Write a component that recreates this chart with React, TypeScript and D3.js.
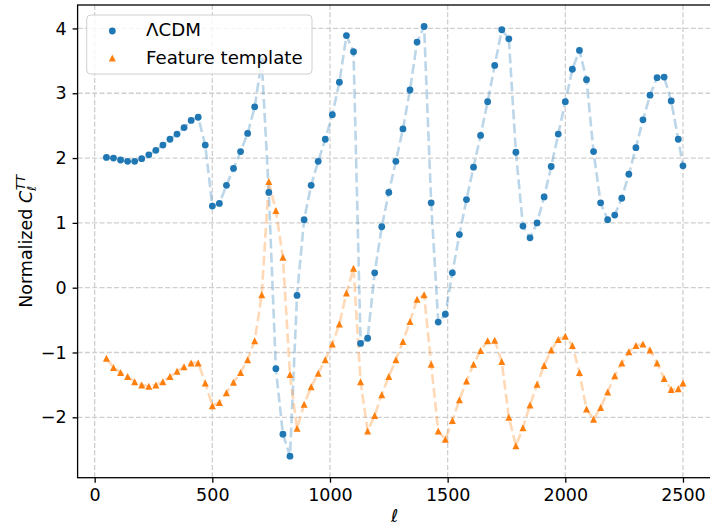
import React, { useEffect, useRef } from "react";
import * as d3 from "d3";

const ell = [
  50, 80, 110, 140, 170, 200, 230, 260, 290, 320, 350, 380, 410, 440, 470, 500,
  530, 560, 590, 620, 650, 680, 710, 740, 770, 800, 830, 860, 890, 920, 950, 980,
  1010, 1040, 1070, 1100, 1130, 1160, 1190, 1220, 1250, 1280, 1310, 1340, 1370,
  1400, 1430, 1460, 1490, 1520, 1550, 1580, 1610, 1640, 1670, 1700, 1730, 1760,
  1790, 1820, 1850, 1880, 1910, 1940, 1970, 2000, 2030, 2060, 2090, 2120, 2150,
  2180, 2210, 2240, 2270, 2300, 2330, 2360, 2390, 2420, 2450, 2480, 2500,
];

const lcdm = [
  2.01, 2.0, 1.97, 1.95, 1.95, 1.99, 2.05, 2.12, 2.2, 2.29, 2.37, 2.47, 2.58,
  2.63, 2.2, 1.26, 1.3, 1.58, 1.84, 2.1, 2.38, 2.79, 3.5, 1.47, -1.25, -2.26,
  -2.6, -0.12, 1.05, 1.58, 1.95, 2.29, 2.67, 3.17, 3.89, 3.64, -0.86, -0.78,
  0.23, 0.94, 1.47, 1.95, 2.45, 3.05, 3.79, 4.03, 1.31, -0.53, -0.41, 0.23,
  0.82, 1.36, 1.86, 2.35, 2.87, 3.43, 3.98, 3.84, 2.09, 0.95, 0.77, 1.0, 1.4,
  1.87, 2.37, 2.87, 3.37, 3.66, 3.21, 2.1, 1.31, 1.05, 1.12, 1.38, 1.75, 2.16,
  2.59, 2.97, 3.24, 3.25, 2.88, 2.29, 1.88,
];

const feature = [
  -1.09, -1.23, -1.31, -1.37, -1.45, -1.5, -1.52, -1.5, -1.45, -1.37, -1.29,
  -1.22, -1.16, -1.16, -1.47, -1.82, -1.77, -1.62, -1.46, -1.31, -1.11, -0.82,
  -0.11, 1.64, 1.19, 0.47, -1.34, -2.17, -1.8, -1.53, -1.32, -1.11, -0.87,
  -0.56, -0.08, 0.3, -1.45, -2.21, -1.97, -1.65, -1.37, -1.11, -0.83, -0.52,
  -0.18, -0.11, -1.18, -2.21, -2.34, -2.05, -1.73, -1.44, -1.18, -0.97, -0.82,
  -0.81, -1.14, -2.0, -2.44, -2.16, -1.81, -1.49, -1.2, -0.96, -0.8, -0.75,
  -0.89, -1.31, -1.87, -2.03, -1.85, -1.61, -1.36, -1.16, -0.99, -0.89, -0.87,
  -0.96, -1.16, -1.4, -1.57, -1.56, -1.47,
];

const xTicks = [0, 500, 1000, 1500, 2000, 2500];
const yTicks = [-2, -1, 0, 1, 2, 3, 4];
const seriesNames = ["ΛCDM", "Feature template"];

const BLUE = "#1f77b4";
const ORANGE = "#ff7f0e";
const FONT = "DejaVu Sans, sans-serif";

const App = () => {
  const ref = useRef<SVGSVGElement | null>(null);

  useEffect(() => {
    document.body.style.margin = "0";
    draw();
  });

  const draw = () => {
    const svg = d3.select(ref.current);
    svg.selectAll("*").remove();

    const left = 77.6;
    const right = 711.8;
    const top = 5;
    const bottom = 477.7;

    const pad = (lo: number, hi: number) => [lo - (hi - lo) * 0.05, hi + (hi - lo) * 0.05];
    const xExt = d3.extent(ell) as [number, number];
    const yExt = d3.extent([...lcdm, ...feature]) as [number, number];

    const x = d3.scaleLinear().domain(pad(xExt[0], xExt[1])).range([left, right]);
    const y = d3.scaleLinear().domain(pad(yExt[0], yExt[1])).range([bottom, top]);

    // grid
    const grid = svg.append("g").attr("stroke", "#cfcfcf").attr("stroke-width", 1.3)
      .attr("stroke-dasharray", "5,2.3");
    xTicks.forEach((t) => {
      grid.append("line").attr("x1", x(t)).attr("x2", x(t)).attr("y1", top).attr("y2", bottom);
    });
    yTicks.forEach((t) => {
      grid.append("line").attr("x1", left).attr("x2", right).attr("y1", y(t)).attr("y2", y(t));
    });

    // dashed connecting lines
    const line = d3.line<number>().x((_, i) => x(ell[i])).y((d) => y(d));
    svg.append("path").attr("d", line(lcdm)).attr("fill", "none").attr("stroke", BLUE)
      .attr("stroke-opacity", 0.3).attr("stroke-width", 2.6).attr("stroke-dasharray", "9.8,4.2");
    svg.append("path").attr("d", line(feature)).attr("fill", "none").attr("stroke", ORANGE)
      .attr("stroke-opacity", 0.3).attr("stroke-width", 2.6).attr("stroke-dasharray", "9.8,4.2");

    const tri = (s: number) => `M0,${-s / 2}L${s / 2},${s / 2}L${-s / 2},${s / 2}Z`;

    svg.append("g").selectAll("circle").data(lcdm).join("circle")
      .attr("cx", (_, i) => x(ell[i])).attr("cy", (d) => y(d)).attr("r", 3.4).attr("fill", BLUE);
    svg.append("g").selectAll("path").data(feature).join("path")
      .attr("d", tri(7))
      .attr("transform", (d, i) => `translate(${x(ell[i])},${y(d)})`).attr("fill", ORANGE);

    // axes
    const xAxis = svg.append("g").attr("transform", `translate(0,${bottom})`)
      .call(d3.axisBottom(x).tickValues(xTicks).tickSize(5).tickPadding(6).tickFormat(d3.format("d")));
    const yAxis = svg.append("g").attr("transform", `translate(${left},0)`)
      .call(d3.axisLeft(y).tickValues(yTicks).tickSize(5).tickPadding(6).tickFormat(d3.format("d")));
    [xAxis, yAxis].forEach((a) => {
      a.select(".domain").remove();
      a.selectAll("line").attr("stroke", "#000").attr("stroke-width", 1.3);
      a.selectAll("text").attr("font-family", FONT).attr("font-size", 17.5).attr("fill", "#000");
    });

    // spines
    svg.append("rect").attr("x", left).attr("y", top).attr("width", right - left)
      .attr("height", bottom - top).attr("fill", "none").attr("stroke", "#000").attr("stroke-width", 1.3);

    // labels
    svg.append("text").attr("x", (left + right) / 2).attr("y", 522).attr("text-anchor", "middle")
      .attr("font-family", FONT).attr("font-size", 17.5).attr("font-style", "italic").text("ℓ");

    const yl = svg.append("text").attr("transform", `translate(32,${(top + bottom) / 2}) rotate(-90)`)
      .attr("text-anchor", "middle").attr("font-family", FONT).attr("font-size", 17.5);
    yl.append("tspan").text("Normalized ");
    yl.append("tspan").attr("font-style", "italic").text("C");
    yl.append("tspan").attr("font-style", "italic").attr("font-size", 12.5).attr("dy", 4).text("ℓ");
    yl.append("tspan").attr("font-style", "italic").attr("font-size", 12.5).attr("dx", -4.5)
      .attr("dy", -11).text("TT");

    // legend
    const lg = svg.append("g");
    lg.append("rect").attr("x", 86.7).attr("y", 15).attr("width", 225.3).attr("height", 59)
      .attr("rx", 4).attr("fill", "#fff").attr("fill-opacity", 0.8).attr("stroke", "#d0d0d0");
    lg.append("circle").attr("cx", 112.3).attr("cy", 31).attr("r", 3.4).attr("fill", BLUE);
    lg.append("path").attr("d", tri(7)).attr("transform", "translate(112.3,58)").attr("fill", ORANGE);
    seriesNames.forEach((n, i) => {
      lg.append("text").attr("x", 146).attr("y", i === 0 ? 36.2 : 63.6).attr("font-family", FONT)
        .attr("font-size", 18.2).text(n);
    });
  };

  return <svg ref={ref} width={710} height={527} style={{ display: "block" }}></svg>;
};

export default App;
